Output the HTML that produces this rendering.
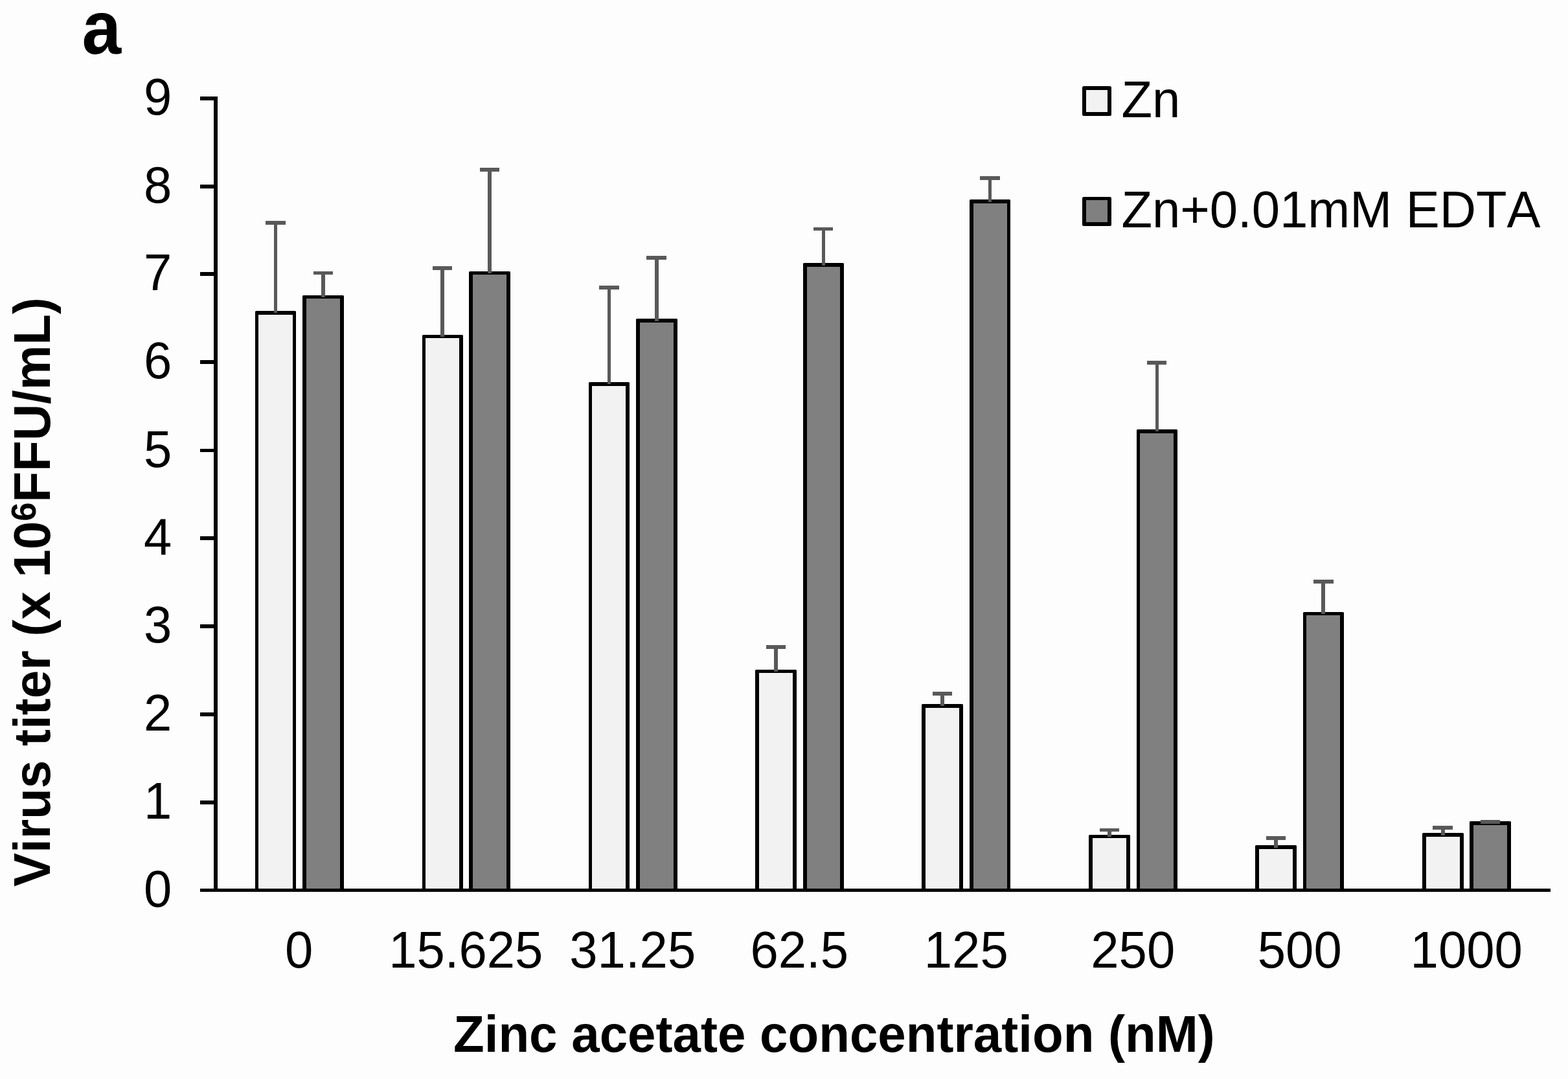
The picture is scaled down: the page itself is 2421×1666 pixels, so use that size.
<!DOCTYPE html>
<html lang="en"><head><meta charset="utf-8"><title>Virus titer vs zinc acetate concentration</title>
<style>
html,body{margin:0;padding:0;background:#fdfdfd;}
body{width:2421px;height:1666px;overflow:hidden;}
svg{display:block;}
text{font-family:"Liberation Sans",Arial,Helvetica,sans-serif;fill:#000;font-kerning:none;font-variant-ligatures:none;}
.b{font-weight:700;}
</style></head><body>
<svg width="2421" height="1666" viewBox="0 0 2421 1666" role="img" aria-label="Bar chart of virus titer versus zinc acetate concentration">
<rect x="0" y="0" width="2421" height="1666" fill="#fdfdfd"/>
<g fill="#000">
<rect x="394" y="480" width="63" height="897" rx="1.5"/>
<rect x="652" y="517" width="63" height="860" rx="1.5"/>
<rect x="909" y="590" width="63" height="787" rx="1.5"/>
<rect x="1166" y="1034" width="64" height="343" rx="1.5"/>
<rect x="1423" y="1087" width="64" height="290" rx="1.5"/>
<rect x="1681" y="1289" width="64" height="88" rx="1.5"/>
<rect x="1938" y="1305" width="64" height="72" rx="1.5"/>
<rect x="2196" y="1286" width="64" height="91" rx="1.5"/>
<rect x="467" y="456" width="64" height="921" rx="1.5"/>
<rect x="724" y="419" width="64" height="958" rx="1.5"/>
<rect x="982" y="492" width="64" height="885" rx="1.5"/>
<rect x="1240" y="406" width="63" height="971" rx="1.5"/>
<rect x="1497" y="308" width="63" height="1069" rx="1.5"/>
<rect x="1755" y="663" width="63" height="714" rx="1.5"/>
<rect x="2012" y="945" width="63" height="432" rx="1.5"/>
<rect x="2269" y="1268" width="64" height="109" rx="1.5"/>
</g>
<g shape-rendering="crispEdges">
<g fill="#f2f2f2">
<rect x="399" y="486" width="53" height="886"/>
<rect x="657" y="522" width="52" height="850"/>
<rect x="914" y="596" width="52" height="776"/>
<rect x="1172" y="1039" width="52" height="333"/>
<rect x="1429" y="1093" width="52" height="279"/>
<rect x="1687" y="1294" width="52" height="78"/>
<rect x="1944" y="1311" width="52" height="61"/>
<rect x="2202" y="1292" width="52" height="80"/>
</g>
<g fill="#808080">
<rect x="473" y="461" width="52" height="911"/>
<rect x="730" y="424" width="52" height="948"/>
<rect x="988" y="498" width="52" height="874"/>
<rect x="1246" y="412" width="51" height="960"/>
<rect x="1503" y="314" width="52" height="1058"/>
<rect x="1760" y="669" width="52" height="703"/>
<rect x="2017" y="950" width="52" height="422"/>
<rect x="2275" y="1274" width="52" height="98"/>
</g>
<g fill="#595959">
<rect x="423" y="341" width="5" height="142"/>
<rect x="410" y="341" width="31" height="6"/>
<rect x="680" y="411" width="6" height="109"/>
<rect x="668" y="411" width="30" height="6"/>
<rect x="938" y="441" width="5" height="152"/>
<rect x="925" y="441" width="31" height="6"/>
<rect x="1195" y="996" width="6" height="41"/>
<rect x="1183" y="996" width="30" height="6"/>
<rect x="1452" y="1068" width="6" height="22"/>
<rect x="1440" y="1068" width="30" height="6"/>
<rect x="1710" y="1279" width="6" height="13"/>
<rect x="1698" y="1279" width="30" height="5"/>
<rect x="1967" y="1291" width="6" height="18"/>
<rect x="1955" y="1291" width="30" height="6"/>
<rect x="2225" y="1275" width="6" height="15"/>
<rect x="2212" y="1275" width="31" height="6"/>
<rect x="496" y="419" width="6" height="40"/>
<rect x="484" y="419" width="30" height="5"/>
<rect x="753" y="259" width="6" height="163"/>
<rect x="741" y="259" width="30" height="6"/>
<rect x="1011" y="395" width="6" height="101"/>
<rect x="998" y="395" width="31" height="6"/>
<rect x="1269" y="351" width="5" height="59"/>
<rect x="1256" y="351" width="30" height="5"/>
<rect x="1526" y="272" width="5" height="40"/>
<rect x="1513" y="272" width="31" height="6"/>
<rect x="1784" y="557" width="5" height="109"/>
<rect x="1771" y="557" width="30" height="6"/>
<rect x="2040" y="895" width="6" height="53"/>
<rect x="2028" y="895" width="31" height="6"/>
<rect x="2286" y="1266" width="30" height="6"/>
</g>
<g fill="#000">
<rect x="330" y="149" width="6" height="1228"/>
<rect x="309" y="1372" width="2085" height="5"/>
<rect x="309" y="1236" width="27" height="6"/>
<rect x="309" y="1100" width="27" height="6"/>
<rect x="309" y="964" width="27" height="6"/>
<rect x="309" y="828" width="27" height="6"/>
<rect x="309" y="693" width="27" height="5"/>
<rect x="309" y="556" width="27" height="6"/>
<rect x="309" y="420" width="27" height="6"/>
<rect x="309" y="285" width="27" height="6"/>
<rect x="309" y="149" width="27" height="6"/>
</g>
</g>
<g fill="#000">
<rect x="1671" y="133" width="45" height="46" rx="2.5"/>
<rect x="1671" y="304" width="45" height="45" rx="2.5"/>
</g>
<g shape-rendering="crispEdges">
<rect x="1677" y="139" width="33" height="34" fill="#f2f2f2"/>
<rect x="1677" y="309" width="33" height="34" fill="#808080"/>
</g>
<g font-size="77.9" text-anchor="end">
<text transform="translate(265.4 1399.8) scale(1 1.035)">0</text>
<text transform="translate(265.4 1264.3) scale(1 1.035)">1</text>
<text transform="translate(265.4 1128.3) scale(1 1.035)">2</text>
<text transform="translate(265.4 992.3) scale(1 1.035)">3</text>
<text transform="translate(265.4 856.3) scale(1 1.035)">4</text>
<text transform="translate(265.4 720.8) scale(1 1.035)">5</text>
<text transform="translate(265.4 584.3) scale(1 1.035)">6</text>
<text transform="translate(265.4 448.3) scale(1 1.035)">7</text>
<text transform="translate(265.4 313.3) scale(1 1.035)">8</text>
<text transform="translate(265.4 177.3) scale(1 1.035)">9</text>
</g>
<g font-size="77.9" text-anchor="middle">
<text transform="translate(461.75 1494) scale(1 1.035)">0</text>
<text transform="translate(719.25 1494) scale(1 1.035)">15.625</text>
<text transform="translate(976.75 1494) scale(1 1.035)">31.25</text>
<text transform="translate(1234.25 1494) scale(1 1.035)">62.5</text>
<text transform="translate(1491.75 1494) scale(1 1.035)">125</text>
<text transform="translate(1749.25 1494) scale(1 1.035)">250</text>
<text transform="translate(2006.75 1494) scale(1 1.035)">500</text>
<text transform="translate(2264.25 1494) scale(1 1.035)">1000</text>
</g>
<text class="b" font-size="78.1" transform="translate(700 1624) scale(1 1.02)">Zinc acetate concentration (nM)</text>
<text class="b" font-size="78.1" transform="translate(77 1369) rotate(-90) scale(1 1.02)">Virus titer (x 10<tspan font-size="52.327" dy="-22.0242">6</tspan><tspan dy="22.0242">FFU/mL)</tspan></text>
<text class="b" font-size="116" transform="translate(126.6 83) scale(0.94 1)">a</text>
<g font-size="77.9">
<text transform="translate(1731.4 181) scale(1 1.03)">Zn</text>
<text transform="translate(1731.4 351) scale(1 1.03)">Zn+0.01mM EDTA</text>
</g>
</svg>
</body></html>
